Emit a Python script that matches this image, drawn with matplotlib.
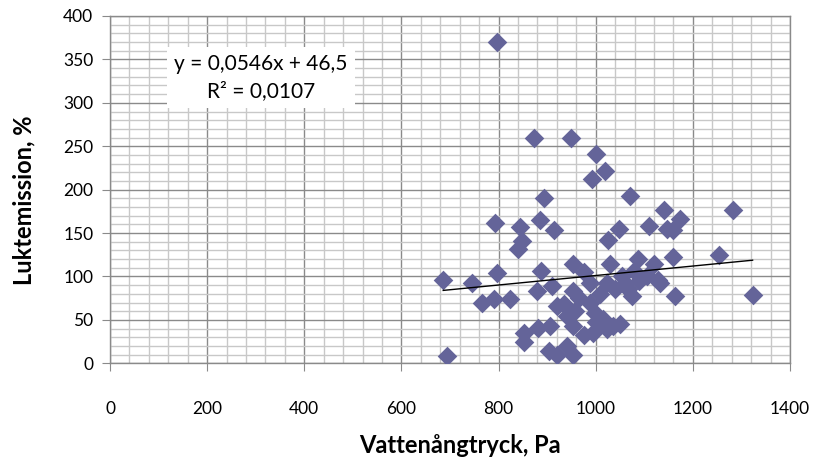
import matplotlib
matplotlib.use("Agg")
import matplotlib.pyplot as plt
from matplotlib.ticker import MultipleLocator
import numpy as np

# Data
vapour_pressure = [
    797, 873, 949, 1001, 1020, 993, 1071, 893, 1141, 1282,
    793, 845, 886, 1174, 915, 1048, 1109, 1146, 1160, 1026,
    848, 841, 1253, 1160, 954, 1030, 1088, 1119, 797, 887,
    975, 686, 745, 911, 989, 1023, 1054, 1078, 1105, 1133,
    879, 954, 1067, 1323, 1163, 766, 791, 823, 920, 934,
    989, 958, 999, 1016, 882, 906, 954, 1023, 1050, 995,
    975, 852, 852, 903, 920, 941, 954, 694, 1008, 1040,
    1000, 965, 940, 1036, 1090, 1128, 1075, 1060,
]
odour_emission = [
    370, 259, 260, 241, 222, 212, 193, 190, 177, 177,
    162, 157, 165, 166, 154, 155, 158, 155, 153, 142,
    141, 132, 125, 123, 114, 114, 120, 114, 104, 106,
    105, 96, 92, 89, 93, 93, 101, 106, 101, 93,
    83, 83, 85, 79, 77, 70, 74, 74, 66, 68,
    70, 60, 58, 51, 41, 43, 43, 39, 45, 35,
    33, 35, 24, 14, 10, 20, 10, 8, 80, 86,
    47, 75, 55, 43, 95, 96, 78, 92,
]

trend_slope = 0.0546
trend_intercept = 46.5
eq_text = "y = 0,0546x + 46,5\nR² = 0,0107"

x_ticks = [0, 200, 400, 600, 800, 1000, 1200, 1400]
y_ticks = [0, 50, 100, 150, 200, 250, 300, 350, 400]
x_label = "Vattenångtryck, Pa"
y_label = "Luktemission, %"

plt.rcParams['font.family'] = ['Lato', 'DejaVu Sans']

fig = plt.figure(figsize=(8.18, 4.61), dpi=100)
ax = fig.add_axes([110 / 818, 1 - 363.3 / 461, 680 / 818, 347.3 / 461])

ax.set_xlim(0, 1400)
ax.set_ylim(0, 400)
ax.xaxis.set_minor_locator(MultipleLocator(40))
ax.yaxis.set_minor_locator(MultipleLocator(10))
ax.set_xticks(x_ticks)
ax.set_yticks(y_ticks)

ax.grid(which='minor', color='#c8c8c8', linewidth=1.0, zorder=0)
ax.grid(which='major', color='#8a8a8a', linewidth=1.0, zorder=0)
ax.set_axisbelow(True)

for s in ax.spines.values():
    s.set_color('#8a8a8a')
    s.set_linewidth(1.0)

ax.tick_params(which='minor', length=0)
ax.tick_params(axis='x', which='major', length=6, color='#8a8a8a', pad=21, labelsize=12.5)
ax.tick_params(axis='y', which='major', length=6, color='#8a8a8a', pad=6, labelsize=12.5)

ax.scatter(vapour_pressure, odour_emission, marker='D', s=100, color='#646499',
           linewidths=0, zorder=3)

xmin, xmax = min(vapour_pressure), max(vapour_pressure)
tx = np.array([xmin, xmax])
ax.plot(tx, trend_slope * tx + trend_intercept, color='black', linewidth=1.0, zorder=4)

ax.text(0.222, 0.822, eq_text, transform=ax.transAxes, ha='center', va='center',
        fontsize=15, linespacing=1.45,
        bbox=dict(facecolor='white', edgecolor='none', pad=5), zorder=5)

ax.set_xlabel(x_label, fontsize=17, fontweight='bold', labelpad=8)
ax.xaxis.set_label_coords(0.515, -0.205)
ax.set_ylabel(y_label, fontsize=17, fontweight='bold')
ax.yaxis.set_label_coords(-0.11, 0.47)

fig.savefig("out.png", dpi=100)
